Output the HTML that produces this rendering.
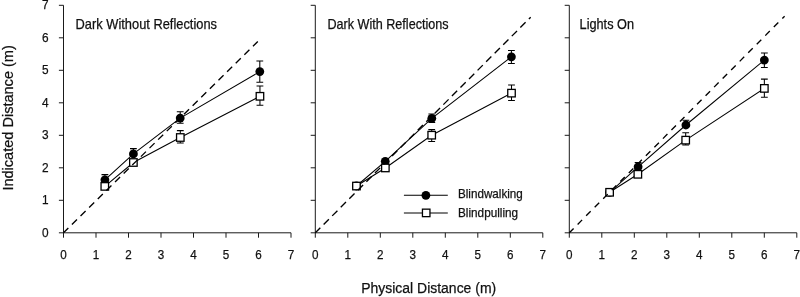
<!DOCTYPE html>
<html><head><meta charset="utf-8"><title>Figure</title>
<style>
html,body{margin:0;padding:0;background:#fff;}
svg{display:block;}
text{font-family:"Liberation Sans",sans-serif;fill:#111;stroke:#111;stroke-width:0.25;}
.t{font-size:13.7px;}
.h{font-size:13.9px;}
.g{font-size:12.8px;}
.l{font-size:15.2px;}
.ax{stroke:#1a1a1a;stroke-width:1;fill:none;}
.ln{stroke:#000;stroke-width:1.05;fill:none;}
.eb{stroke:#000;stroke-width:1.05;fill:none;}
.sq{fill:#fff;stroke:#000;stroke-width:1.3;}
.ci{fill:#000;stroke:none;}
.da{stroke:#000;stroke-width:1.35;stroke-dashoffset:0.3;fill:none;}
</style></head>
<body>
<svg width="800" height="297" viewBox="0 0 800 297">
<rect x="0" y="0" width="800" height="297" fill="#fff"/>
<g>
<path class="ax" d="M63.5 5.3 V232.8 H291"/>
<path class="ax" d="M63.5 232.8h-4.6M63.5 232.8v4.9M63.5 200.3h-4.6M96 232.8v4.9M63.5 167.8h-4.6M128.5 232.8v4.9M63.5 135.3h-4.6M161 232.8v4.9M63.5 102.8h-4.6M193.5 232.8v4.9M63.5 70.3h-4.6M226 232.8v4.9M63.5 37.8h-4.6M258.5 232.8v4.9M63.5 5.3h-4.6M291 232.8v4.9"/>
<text class="t" x="63.5" y="259.4" text-anchor="middle" textLength="6.5" lengthAdjust="spacingAndGlyphs">0</text>
<text class="t" x="96" y="259.4" text-anchor="middle" textLength="6.5" lengthAdjust="spacingAndGlyphs">1</text>
<text class="t" x="128.5" y="259.4" text-anchor="middle" textLength="6.5" lengthAdjust="spacingAndGlyphs">2</text>
<text class="t" x="161" y="259.4" text-anchor="middle" textLength="6.5" lengthAdjust="spacingAndGlyphs">3</text>
<text class="t" x="193.5" y="259.4" text-anchor="middle" textLength="6.5" lengthAdjust="spacingAndGlyphs">4</text>
<text class="t" x="226" y="259.4" text-anchor="middle" textLength="6.5" lengthAdjust="spacingAndGlyphs">5</text>
<text class="t" x="258.5" y="259.4" text-anchor="middle" textLength="6.5" lengthAdjust="spacingAndGlyphs">6</text>
<text class="t" x="291" y="259.4" text-anchor="middle" textLength="6.5" lengthAdjust="spacingAndGlyphs">7</text>
<text class="t" x="48.5" y="236.9" text-anchor="end" textLength="6.6" lengthAdjust="spacingAndGlyphs">0</text>
<text class="t" x="48.5" y="204.4" text-anchor="end" textLength="6.6" lengthAdjust="spacingAndGlyphs">1</text>
<text class="t" x="48.5" y="171.9" text-anchor="end" textLength="6.6" lengthAdjust="spacingAndGlyphs">2</text>
<text class="t" x="48.5" y="139.4" text-anchor="end" textLength="6.6" lengthAdjust="spacingAndGlyphs">3</text>
<text class="t" x="48.5" y="106.9" text-anchor="end" textLength="6.6" lengthAdjust="spacingAndGlyphs">4</text>
<text class="t" x="48.5" y="74.4" text-anchor="end" textLength="6.6" lengthAdjust="spacingAndGlyphs">5</text>
<text class="t" x="48.5" y="41.9" text-anchor="end" textLength="6.6" lengthAdjust="spacingAndGlyphs">6</text>
<text class="t" x="48.5" y="9.4" text-anchor="end" textLength="6.6" lengthAdjust="spacingAndGlyphs">7</text>
<text class="h" x="75.6" y="29.4" textLength="141.4" lengthAdjust="spacingAndGlyphs">Dark Without Reflections</text>
<path class="ln" d="M104.8 186.4 L133.4 162.5 L180.3 137.5 L259.95 96.3"/>
<path class="ln" d="M104.9 179.8 L133.4 153.9 L180.2 118.1 L259.8 71.6"/>
<path class="eb" d="M104.9 179.8V174.6M101.5 174.6h6.8"/>
<path class="eb" d="M133.4 153.9V148.6M130 148.6h6.8"/>
<path class="eb" d="M180.2 118.1V111.8M176.8 111.8h6.8M180.2 118.1V123.2M176.8 123.2h6.8"/>
<path class="eb" d="M259.8 71.6V60.9M256.4 60.9h6.8M259.8 71.6V82.3M256.4 82.3h6.8"/>
<path class="eb" d="M180.3 137.5V130.6M176.9 130.6h6.8M180.3 137.5V142.9M176.9 142.9h6.8"/>
<path class="eb" d="M259.95 96.3V85.9M256.55 85.9h6.8M259.95 96.3V105.25M256.55 105.25h6.8"/>
<circle class="ci" cx="104.9" cy="179.8" r="4.4"/>
<circle class="ci" cx="133.4" cy="153.9" r="4.4"/>
<circle class="ci" cx="180.2" cy="118.1" r="4.4"/>
<circle class="ci" cx="259.8" cy="71.6" r="4.4"/>
<rect class="sq" x="101.05" y="182.65" width="7.5" height="7.5"/>
<rect class="sq" x="129.65" y="158.75" width="7.5" height="7.5"/>
<rect class="sq" x="176.55" y="133.75" width="7.5" height="7.5"/>
<rect class="sq" x="256.2" y="92.55" width="7.5" height="7.5"/>
<path class="da" stroke-dasharray="7.1 5" d="M63.5 232.8L257.8 41.5"/>
</g>
<g>
<path class="ax" d="M315.3 5.3 V232.8 H542.8"/>
<path class="ax" d="M315.3 232.8h-4.6M315.3 232.8v4.9M315.3 200.3h-4.6M347.8 232.8v4.9M315.3 167.8h-4.6M380.3 232.8v4.9M315.3 135.3h-4.6M412.8 232.8v4.9M315.3 102.8h-4.6M445.3 232.8v4.9M315.3 70.3h-4.6M477.8 232.8v4.9M315.3 37.8h-4.6M510.3 232.8v4.9M315.3 5.3h-4.6M542.8 232.8v4.9"/>
<text class="t" x="315.3" y="259.4" text-anchor="middle" textLength="6.5" lengthAdjust="spacingAndGlyphs">0</text>
<text class="t" x="347.8" y="259.4" text-anchor="middle" textLength="6.5" lengthAdjust="spacingAndGlyphs">1</text>
<text class="t" x="380.3" y="259.4" text-anchor="middle" textLength="6.5" lengthAdjust="spacingAndGlyphs">2</text>
<text class="t" x="412.8" y="259.4" text-anchor="middle" textLength="6.5" lengthAdjust="spacingAndGlyphs">3</text>
<text class="t" x="445.3" y="259.4" text-anchor="middle" textLength="6.5" lengthAdjust="spacingAndGlyphs">4</text>
<text class="t" x="477.8" y="259.4" text-anchor="middle" textLength="6.5" lengthAdjust="spacingAndGlyphs">5</text>
<text class="t" x="510.3" y="259.4" text-anchor="middle" textLength="6.5" lengthAdjust="spacingAndGlyphs">6</text>
<text class="t" x="542.8" y="259.4" text-anchor="middle" textLength="6.5" lengthAdjust="spacingAndGlyphs">7</text>
<text class="h" x="327.4" y="29.4" textLength="121.2" lengthAdjust="spacingAndGlyphs">Dark With Reflections</text>
<path class="ln" d="M356.45 186.06 L385.35 167.95 L431.7 135.2 L511.5 93.15"/>
<path class="ln" d="M356.45 186 L385.25 161.3 L431.8 118.3 L511.4 56.8"/>
<path class="eb" d="M431.8 118.3V114M428.4 114h6.8M431.8 118.3V122.4M428.4 122.4h6.8"/>
<path class="eb" d="M511.4 56.8V50.4M508 50.4h6.8M511.4 56.8V63.4M508 63.4h6.8"/>
<path class="eb" d="M431.7 135.2V129.6M428.3 129.6h6.8M431.7 135.2V141.5M428.3 141.5h6.8"/>
<path class="eb" d="M511.5 93.15V84.9M508.1 84.9h6.8M511.5 93.15V100.4M508.1 100.4h6.8"/>
<circle class="ci" cx="356.45" cy="186" r="4.4"/>
<circle class="ci" cx="385.25" cy="161.3" r="4.4"/>
<circle class="ci" cx="431.8" cy="118.3" r="4.4"/>
<circle class="ci" cx="511.4" cy="56.8" r="4.4"/>
<rect class="sq" x="352.7" y="182.31" width="7.5" height="7.5"/>
<rect class="sq" x="381.6" y="164.2" width="7.5" height="7.5"/>
<rect class="sq" x="427.95" y="131.45" width="7.5" height="7.5"/>
<rect class="sq" x="507.75" y="89.4" width="7.5" height="7.5"/>
<path class="da" stroke-dasharray="7.4 4.7" d="M315.3 232.8L530.7 17.2"/>
</g>
<g>
<path class="ax" d="M569.3 5.3 V232.8 H796.8"/>
<path class="ax" d="M569.3 232.8h-4.6M569.3 232.8v4.9M569.3 200.3h-4.6M601.8 232.8v4.9M569.3 167.8h-4.6M634.3 232.8v4.9M569.3 135.3h-4.6M666.8 232.8v4.9M569.3 102.8h-4.6M699.3 232.8v4.9M569.3 70.3h-4.6M731.8 232.8v4.9M569.3 37.8h-4.6M764.3 232.8v4.9M569.3 5.3h-4.6M796.8 232.8v4.9"/>
<text class="t" x="569.3" y="259.4" text-anchor="middle" textLength="6.5" lengthAdjust="spacingAndGlyphs">0</text>
<text class="t" x="601.8" y="259.4" text-anchor="middle" textLength="6.5" lengthAdjust="spacingAndGlyphs">1</text>
<text class="t" x="634.3" y="259.4" text-anchor="middle" textLength="6.5" lengthAdjust="spacingAndGlyphs">2</text>
<text class="t" x="666.8" y="259.4" text-anchor="middle" textLength="6.5" lengthAdjust="spacingAndGlyphs">3</text>
<text class="t" x="699.3" y="259.4" text-anchor="middle" textLength="6.5" lengthAdjust="spacingAndGlyphs">4</text>
<text class="t" x="731.8" y="259.4" text-anchor="middle" textLength="6.5" lengthAdjust="spacingAndGlyphs">5</text>
<text class="t" x="764.3" y="259.4" text-anchor="middle" textLength="6.5" lengthAdjust="spacingAndGlyphs">6</text>
<text class="t" x="796.8" y="259.4" text-anchor="middle" textLength="6.5" lengthAdjust="spacingAndGlyphs">7</text>
<text class="h" x="579.6" y="29.4" textLength="54.4" lengthAdjust="spacingAndGlyphs">Lights On</text>
<path class="ln" d="M609.6 192.3 L637.85 174.3 L685.7 140.15 L764.35 88.4"/>
<path class="ln" d="M609.6 192.3 L638.1 166.8 L685.9 125 L764.35 60.05"/>
<path class="eb" d="M638.1 166.8V162.5M634.7 162.5h6.8"/>
<path class="eb" d="M685.9 125V120.3M682.5 120.3h6.8"/>
<path class="eb" d="M764.35 60.05V52.9M760.95 52.9h6.8M764.35 60.05V67.4M760.95 67.4h6.8"/>
<path class="eb" d="M685.7 140.15V132.7M682.3 132.7h6.8M685.7 140.15V144.9M682.3 144.9h6.8"/>
<path class="eb" d="M764.35 88.4V79.1M760.95 79.1h6.8M764.35 88.4V97.25M760.95 97.25h6.8"/>
<circle class="ci" cx="609.6" cy="192.3" r="4.4"/>
<circle class="ci" cx="638.1" cy="166.8" r="4.4"/>
<circle class="ci" cx="685.9" cy="125" r="4.4"/>
<circle class="ci" cx="764.35" cy="60.05" r="4.4"/>
<rect class="sq" x="605.85" y="188.55" width="7.5" height="7.5"/>
<rect class="sq" x="634.1" y="170.55" width="7.5" height="7.5"/>
<rect class="sq" x="681.95" y="136.4" width="7.5" height="7.5"/>
<rect class="sq" x="760.6" y="84.65" width="7.5" height="7.5"/>
<path class="da" stroke-dasharray="6.4 5.7" d="M569.3 232.8L784.6 16.2"/>
</g>
<g>
<path class="ln" d="M403.9 195.3H447.8M403.9 213H447.8"/>
<circle class="ci" cx="425.9" cy="195.3" r="4.4"/>
<rect class="sq" x="422.45" y="209.15" width="7.5" height="7.5"/>
<text class="g" x="458" y="198.4" textLength="64.8" lengthAdjust="spacingAndGlyphs">Blindwalking</text>
<text class="g" x="458" y="216.5" textLength="60.1" lengthAdjust="spacingAndGlyphs">Blindpulling</text>
</g>
<text class="l" x="361.2" y="292.8" textLength="135" lengthAdjust="spacingAndGlyphs">Physical Distance (m)</text>
<text class="l" transform="translate(12.6 190.6) rotate(-90)" x="0" y="0" textLength="145.4" lengthAdjust="spacingAndGlyphs">Indicated Distance (m)</text>
</svg>
</body></html>
